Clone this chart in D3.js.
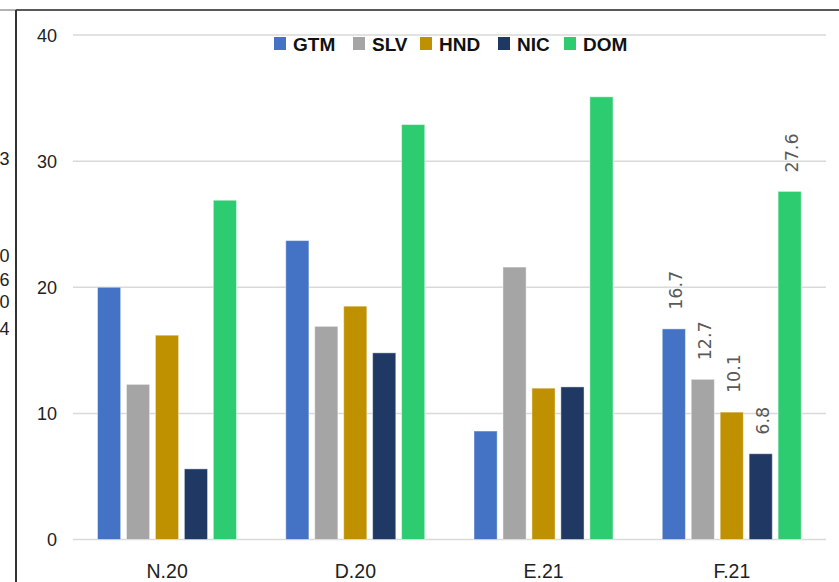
<!DOCTYPE html>
<html><head><meta charset="utf-8">
<script src="https://cdn.jsdelivr.net/npm/d3@7"></script>
<style>html,body{margin:0;padding:0;background:#fff;}svg{display:block;}</style>
</head><body>
<script>
const categories = ["N.20", "D.20", "E.21", "F.21"];
const seriesNames = ["GTM", "SLV", "HND", "NIC", "DOM"];
const GTM = [20.0, 23.7, 8.6, 16.7];
const SLV = [12.3, 16.9, 21.6, 12.7];
const HND = [16.2, 18.5, 12.0, 10.1];
const NIC = [5.6, 14.8, 12.1, 6.8];
const DOM = [26.9, 32.9, 35.1, 27.6];
const colors = ["#4472C4", "#A5A5A5", "#BF9000", "#203864", "#2ECC71"];
const yTicks = [0, 10, 20, 30, 40];
const labeledCategory = "F.21";
const sideTexts = ["3", "0", "6", "0", "4"];

const seriesValues = [GTM, SLV, HND, NIC, DOM];
const W = 839, H = 582;
const svg = d3.select("body").append("svg").attr("width", W).attr("height", H);

// borders
svg.append("line").attr("x1", 0).attr("x2", 16).attr("y1", 10).attr("y2", 10).attr("stroke", "#9a9a9a").attr("stroke-width", 1.5);
svg.append("line").attr("x1", 16).attr("x2", W).attr("y1", 10).attr("y2", 10).attr("stroke", "#222").attr("stroke-width", 1.5);
svg.append("line").attr("x1", 16).attr("x2", 16).attr("y1", 10).attr("y2", H).attr("stroke", "#333").attr("stroke-width", 2);

// cut-off texts from neighbouring panel
const sideY = [165, 262, 286, 308, 335];
svg.selectAll("text.side").data(sideTexts).enter().append("text")
  .attr("x", 9.5).attr("y", (d, i) => sideY[i]).attr("text-anchor", "end")
  .attr("font-family", "Liberation Sans, Arial, sans-serif").attr("font-size", 18).attr("fill", "#222")
  .text(d => d);

const x0 = d3.scaleBand().domain(categories).range([73, 826]).paddingInner(0).paddingOuter(0);
const x1 = d3.scaleBand().domain(seriesNames).range([24.5, 163.5]).paddingInner(0.2).paddingOuter(0);
const y = d3.scaleLinear().domain([0, 40]).range([539.5, 35]);

// gridlines
svg.append("g").selectAll("line").data(yTicks).enter().append("line")
  .attr("x1", 73).attr("x2", 826).attr("y1", d => y(d)).attr("y2", d => y(d))
  .attr("stroke", "#d9d9d9").attr("stroke-width", 1.5);

// y axis labels
const yAxis = d3.axisLeft(y).tickValues(yTicks).tickSize(0).tickPadding(0);
const gy = svg.append("g").attr("transform", "translate(57,0)").call(yAxis);
gy.select(".domain").remove();
gy.selectAll("text").attr("font-family", "Liberation Sans, Arial, sans-serif").attr("font-size", 18).attr("fill", "#222").attr("dy", "0.35em");

// x axis labels
const xAxis = d3.axisBottom(x0).tickSize(0).tickPadding(0);
const gx = svg.append("g").attr("transform", "translate(0,564)").call(xAxis);
gx.select(".domain").remove();
gx.selectAll("text").attr("font-family", "Liberation Sans, Arial, sans-serif").attr("font-size", 19.5).attr("fill", "#222").attr("dy", "0.72em");

// bars
const data = [];
categories.forEach((c, ci) => seriesNames.forEach((s, si) => data.push({c, s, si, v: seriesValues[si][ci]})));
svg.append("g").selectAll("rect").data(data).enter().append("rect")
  .attr("x", d => x0(d.c) + x1(d.s)).attr("width", x1.bandwidth())
  .attr("y", d => y(d.v)).attr("height", d => y(0) - y(d.v))
  .attr("fill", d => colors[d.si]).attr("stroke", "#ffffff").attr("stroke-opacity", 0.45).attr("stroke-width", 1);

// data labels
svg.append("g").selectAll("text").data(data.filter(d => d.c === labeledCategory)).enter().append("text")
  .attr("transform", d => `translate(${x0(d.c) + x1(d.s) + x1.bandwidth() / 2 + 2},${y(d.v) - 19}) rotate(-90)`)
  .attr("text-anchor", "start").attr("dy", "0.35em")
  .attr("font-family", "DejaVu Sans, sans-serif").attr("font-size", 17.5).attr("fill", "#595959")
  .text(d => d.v.toFixed(1));

// legend
const legendX = [274, 353, 420, 498, 564];
const lg = svg.append("g").selectAll("g").data(seriesNames).enter().append("g")
  .attr("transform", (d, i) => `translate(${legendX[i]},37)`);
lg.append("rect").attr("width", 12).attr("height", 13).attr("fill", (d, i) => colors[i]);
lg.append("text").attr("x", 19).attr("y", 13.5).attr("font-family", "Liberation Sans, Arial, sans-serif")
  .attr("font-weight", "bold").attr("font-size", 19).attr("fill", "#111").text(d => d);
</script>
</body></html>
